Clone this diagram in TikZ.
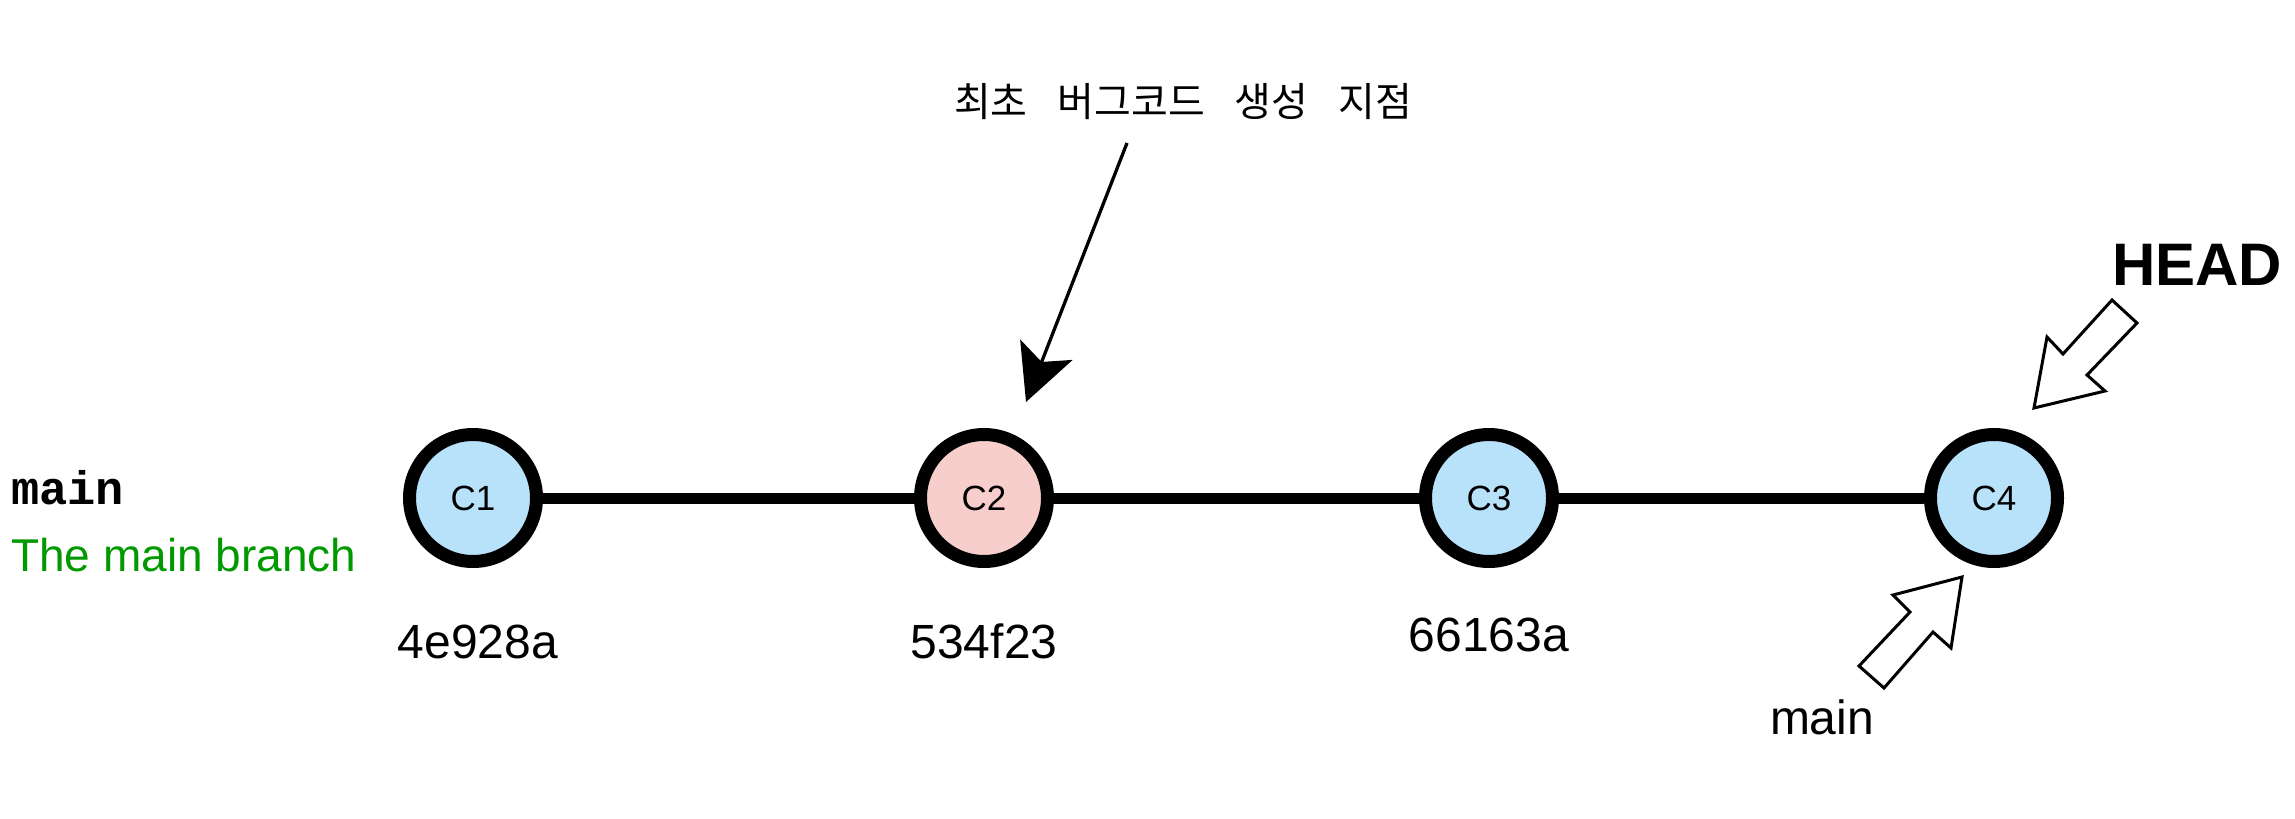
\documentclass[tikz,border=0pt]{standalone}
\usepackage{fontspec}
\setmainfont{Liberation Sans}
\newfontfamily\monob{Liberation Mono}
\newfontfamily\kr{Noto Sans CJK KR}
\usetikzlibrary{arrows.meta}
\definecolor{cblue}{RGB}{184,225,250}
\definecolor{cpink}{RGB}{248,206,204}
\definecolor{cgreen}{RGB}{0,153,0}
\tikzset{
  commit/.style={circle, draw=black, line width=13pt, minimum size=127pt, inner sep=0pt,
    font=\fontsize{35}{42}\selectfont},
  edge/.style={line width=11pt},
  hash/.style={anchor=base, inner sep=0pt, font=\fontsize{48}{58}\selectfont},
  blockarrow/.style={draw=black, line width=3pt, fill=white, line join=miter},
  bugarrow/.style={line width=3.3pt, -{Stealth[length=56pt,width=56pt,inset=13pt]}}
}
\begin{document}
\begin{tikzpicture}[x=1pt,y=-1pt]
\useasboundingbox (0,0) rectangle (2295,819);

% branch labels
\node[anchor=base west, inner sep=0pt, font=\monob\bfseries\fontsize{47}{56}\selectfont] (brname) at (11,504) {main};
\node[anchor=base west, inner sep=0pt, text=cgreen, font=\fontsize{46}{55}\selectfont] (brdesc) at (11,571) {The main branch};

% commits
\node[commit, fill=cblue] (c1) at (473,498) {C1};
\node[commit, fill=cpink] (c2) at (984,498) {C2};
\node[commit, fill=cblue] (c3) at (1489,498) {C3};
\node[commit, fill=cblue] (c4) at (1994,498) {C4};

\draw[edge] (c1) -- (c2);
\draw[edge] (c2) -- (c3);
\draw[edge] (c3) -- (c4);

% hashes
\node[hash] (h1) at (478,658) {4e928a};
\node[hash] (h2) at (984,658) {534f23};
\node[hash] (h3) at (1489,651) {66163a};

% bug annotation
\node[inner sep=0pt, font=\kr\fontsize{40}{48}\selectfont] (bug) at (1183,102)
  {최초\hspace{0.75em}버그코드\hspace{0.75em}생성\hspace{0.75em}지점};
\coordinate (bugstart) at (1127,143);
\coordinate (bugtip) at (1026,402);
\draw[bugarrow] (bugstart) -- (bugtip);

% HEAD pointer
\node[anchor=base, inner sep=0pt, font=\bfseries\fontsize{60}{72}\selectfont] (head) at (2197,285) {HEAD};
\draw[blockarrow] (2034,408) -- (2047,337) -- (2063,354) -- (2112,300) -- (2137,323)
  -- (2087,375) -- (2105,391) -- cycle;

% main pointer
\node[anchor=base, inner sep=0pt, font=\fontsize{48}{58}\selectfont] (mainptr) at (1822,734) {main};
\draw[blockarrow] (1962,577) -- (1893,595) -- (1910,612) -- (1859,666) -- (1884,688)
  -- (1933,632) -- (1951,648) -- cycle;
\end{tikzpicture}
\end{document}
